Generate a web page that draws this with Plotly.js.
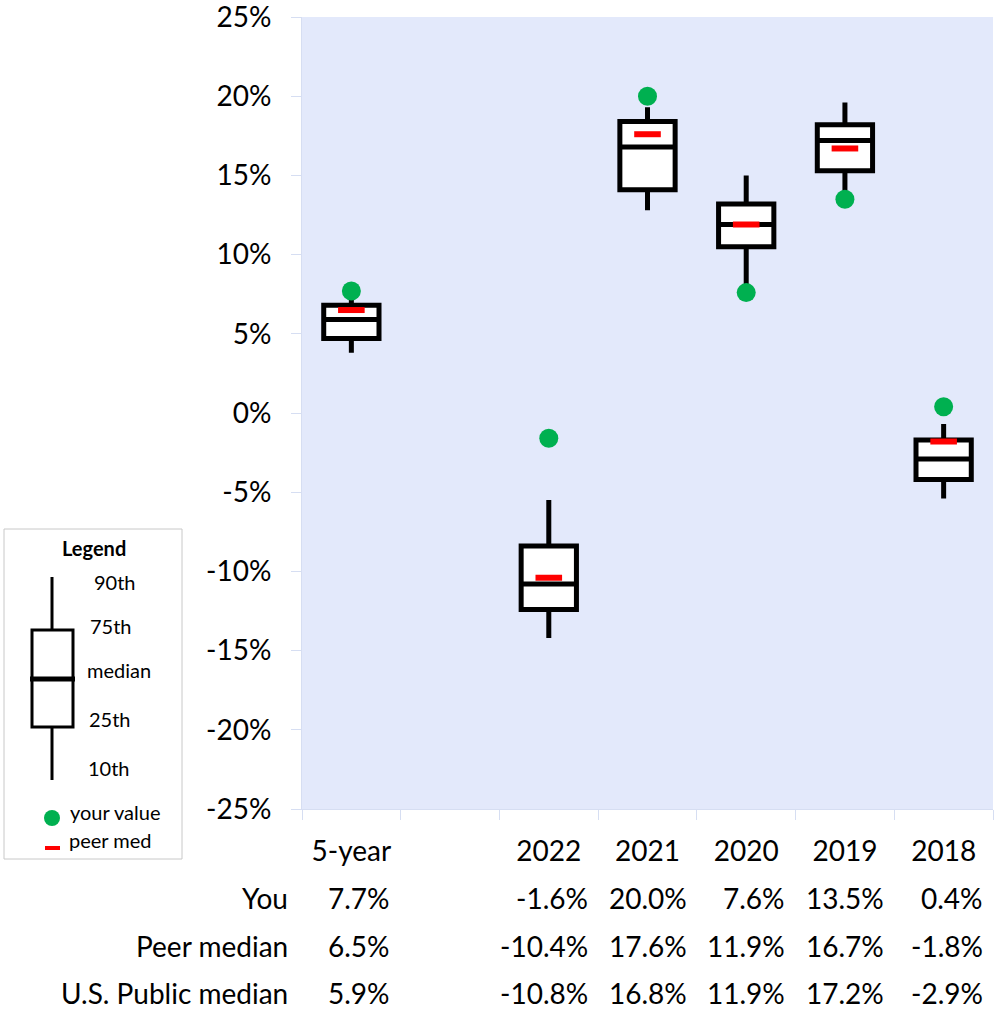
<!DOCTYPE html>
<html>
<head>
<meta charset="utf-8">
<script src="https://cdn.plot.ly/plotly-3.0.1.min.js"></script>
<style>html,body{margin:0;padding:0;background:#fff;}#chart{width:996px;height:1011px;}</style>
</head>
<body>
<div id="chart"></div>
<script>
// ---- data ----
const categories   = ['5-year', ' ', '2022', '2021', '2020', '2019', '2018'];
const dataCats     = ['5-year', '2022', '2021', '2020', '2019', '2018'];
const p10          = [3.8, -14.2, 12.8, 8.0, 14.0, -5.4];
const p25          = [4.7, -12.4, 14.1, 10.5, 15.3, -4.2];
const usMedian     = [5.9, -10.8, 16.8, 11.9, 17.2, -2.9];
const p75          = [6.8, -8.4, 18.4, 13.2, 18.2, -1.7];
const p90          = [7.2, -5.5, 19.3, 15.0, 19.6, -0.7];
const youValues    = [7.7, -1.6, 20.0, 7.6, 13.5, 0.4];
const peerMedian   = [6.5, -10.4, 17.6, 11.9, 16.7, -1.8];
const tableRows    = ['You', 'Peer median', 'U.S. Public median'];
const tableSeries  = [youValues, peerMedian, usMedian];
const yTickVals    = [-25, -20, -15, -10, -5, 0, 5, 10, 15, 20, 25];
const yTickText    = yTickVals.map(v => v + '%');

// ---- layout helpers (pixel -> paper) ----
const W = 996, H = 1011, ML = 302, MR = 3, MT = 17, MB = 202;
const PW = W - ML - MR, PH = H - MT - MB;
const px = x => (x - ML) / PW;
const py = y => (H - MB - y) / PH;
const FONT = 'Lato, "Open Sans", sans-serif';

const traces = [
  {
    type: 'box', x: dataCats, q1: p25, median: usMedian, q3: p75,
    lowerfence: p10, upperfence: p90, boxpoints: false,
    width: 0.56, whiskerwidth: 0,
    line: {color: '#000000', width: 5}, fillcolor: '#ffffff',
    hoverinfo: 'skip', showlegend: false
  },
  {
    type: 'scatter', mode: 'markers', x: dataCats, y: peerMedian,
    marker: {symbol: 'line-ew', size: 19, line: {color: '#FF0000', width: 6}},
    hoverinfo: 'skip', showlegend: false
  },
  {
    type: 'scatter', mode: 'markers', x: dataCats, y: youValues,
    marker: {symbol: 'circle', size: 19, color: '#00B050'},
    hoverinfo: 'skip', showlegend: false
  }
];

const annotations = [];
const rowY = [898, 946, 993];
tableRows.forEach((lab, r) => {
  annotations.push({
    xref: 'paper', yref: 'paper', x: px(290), y: py(rowY[r]),
    xanchor: 'right', yanchor: 'middle', showarrow: false,
    text: lab, font: {family: FONT, size: 28, color: '#000'}
  });
  dataCats.forEach((c, i) => {
    annotations.push({
      xref: 'x', yref: 'paper', x: categories.indexOf(c), y: py(rowY[r]), xshift: 41,
      xanchor: 'right', yanchor: 'middle', showarrow: false,
      text: tableSeries[r][i].toFixed(1) + '%',
      font: {family: FONT, size: 28, color: '#000'}
    });
  });
});

// legend panel
const legFont = {family: FONT, size: 20, color: '#000'};
const legLabels = [
  ['90th', 92, 582], ['75th', 88, 626], ['median', 85, 670],
  ['25th', 87, 719], ['10th', 86, 768], ['your value', 68, 812], ['peer med', 67, 840]
];
annotations.push({xref: 'paper', yref: 'paper', x: px(94), y: py(548), xanchor: 'center', yanchor: 'middle',
  showarrow: false, text: '<b>Legend</b>', font: {family: FONT, size: 20, color: '#000'}});
legLabels.forEach(([t, x, y]) => annotations.push({
  xref: 'paper', yref: 'paper', x: px(x), y: py(y), xanchor: 'left', yanchor: 'middle',
  showarrow: false, text: t, font: legFont
}));

const shapes = [
  {type: 'rect', xref: 'paper', yref: 'paper', x0: px(4), x1: px(182), y0: py(529), y1: py(859),
   line: {color: '#c8c8c8', width: 1}, fillcolor: '#ffffff', layer: 'below'},
  {type: 'line', xref: 'paper', yref: 'paper', x0: px(52), x1: px(52), y0: py(577), y1: py(780),
   line: {color: '#000', width: 3}},
  {type: 'rect', xref: 'paper', yref: 'paper', x0: px(32), x1: px(73), y0: py(630), y1: py(727),
   line: {color: '#000', width: 3}, fillcolor: '#ffffff'},
  {type: 'line', xref: 'paper', yref: 'paper', x0: px(30), x1: px(75), y0: py(679), y1: py(679),
   line: {color: '#000', width: 5}},
  {type: 'circle', xref: 'paper', yref: 'paper', x0: px(44), x1: px(60), y0: py(810), y1: py(826),
   line: {width: 0}, fillcolor: '#00B050'},
  {type: 'line', xref: 'paper', yref: 'paper', x0: px(45), x1: px(60), y0: py(848), y1: py(848),
   line: {color: '#FF0000', width: 4}}
];

const layout = {
  width: W, height: H,
  margin: {l: ML, r: MR, t: MT, b: MB, pad: 0},
  paper_bgcolor: '#ffffff', plot_bgcolor: '#E3E9FB',
  showlegend: false,
  font: {family: FONT, color: '#000'},
  xaxis: {
    type: 'category', categoryorder: 'array', categoryarray: categories,
    range: [-0.5, categories.length - 0.5], fixedrange: true,
    showgrid: false, zeroline: false, showline: true, linecolor: '#D6DEF2', linewidth: 1,
    ticks: 'outside', tickson: 'boundaries', ticklen: 10, tickcolor: '#D6DEF2', tickwidth: 1,
    tickfont: {family: FONT, size: 28, color: '#000'}, ticklabelstandoff: 17
  },
  yaxis: {
    range: [-25, 25], tickmode: 'array', tickvals: yTickVals, ticktext: yTickText, fixedrange: true,
    showgrid: false, zeroline: false, showline: true, linecolor: '#D6DEF2', linewidth: 1,
    ticks: 'outside', ticklen: 10, tickcolor: '#D6DEF2', tickwidth: 1,
    tickfont: {family: FONT, size: 28, color: '#000'}, ticklabelstandoff: 14,
    ticklabeloverflow: 'allow'
  },
  annotations: annotations,
  shapes: shapes
};

Plotly.newPlot('chart', traces, layout, {staticPlot: true, displayModeBar: false});
</script>
</body>
</html>
